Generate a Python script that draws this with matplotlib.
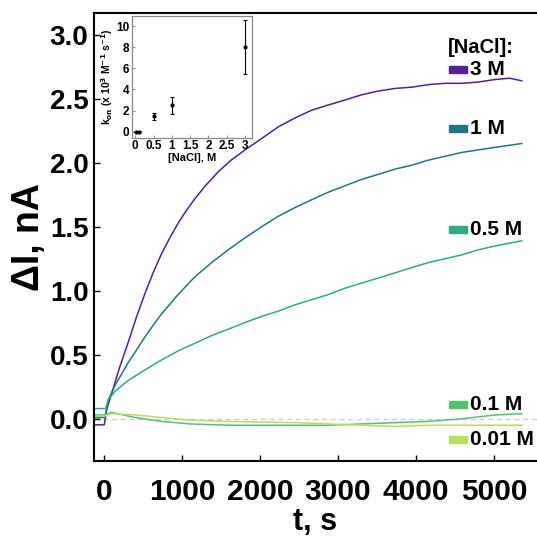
import numpy as np
import matplotlib.pyplot as plt
from matplotlib.patches import Rectangle

plt.rcParams['font.family'] = ['Liberation Sans', 'DejaVu Sans']
plt.rcParams['font.weight'] = 'bold'

# current traces, t in s, dI in nA
t_3M = [-115, 4, 34, 100, 200, 312, 420, 526, 630, 739, 850, 953, 1060, 1167, 1300, 1466, 1630, 1808,
        2000, 2235, 2450, 2662, 2870, 3090, 3300, 3517, 3730, 3944, 4160, 4372, 4580, 4799, 5013, 5200, 5355]
i_3M = [-0.047, -0.047, 0.07, 0.20, 0.40, 0.60, 0.80, 0.98, 1.14, 1.29, 1.42, 1.53, 1.63, 1.72, 1.82, 1.93, 2.02, 2.10,
        2.18, 2.28, 2.35, 2.41, 2.45, 2.49, 2.53, 2.56, 2.58, 2.59, 2.61, 2.62, 2.62, 2.63, 2.65, 2.66, 2.64]

t_1M = [-115, 13, 56, 150, 312, 420, 526, 630, 739, 950, 1167, 1380, 1594, 1800, 2021, 2230, 2449, 2660,
        2876, 3090, 3303, 3520, 3731, 3940, 4158, 4370, 4585, 4800, 5013, 5355]
i_1M = [0.01, 0.01, 0.15, 0.27, 0.44, 0.54, 0.64, 0.73, 0.82, 0.97, 1.11, 1.22, 1.32, 1.41, 1.50, 1.58, 1.65, 1.71,
        1.77, 1.82, 1.87, 1.91, 1.95, 1.98, 2.02, 2.05, 2.08, 2.10, 2.12, 2.15]

t_05M = [-115, 21, 56, 150, 312, 520, 739, 950, 1167, 1380, 1594, 1800, 2021, 2230, 2449, 2660, 2876, 3090,
         3303, 3520, 3731, 3940, 4158, 4370, 4585, 4800, 5013, 5355]
i_05M = [0.08, 0.08, 0.15, 0.22, 0.30, 0.38, 0.46, 0.53, 0.59, 0.65, 0.70, 0.75, 0.80, 0.84, 0.89, 0.93, 0.97, 1.02,
         1.06, 1.10, 1.14, 1.18, 1.22, 1.25, 1.28, 1.32, 1.35, 1.39]

t_01M = [-115, 0, 98, 400, 739, 1100, 1594, 2000, 2449, 2876, 3303, 3731, 4158, 4585, 5013, 5355]
i_01M = [0.03, 0.03, 0.05, 0.01, -0.02, -0.04, -0.05, -0.05, -0.05, -0.05, -0.04, -0.03, -0.02, 0.0, 0.03, 0.04]

t_001M = [-115, 0, 98, 400, 739, 1100, 1594, 2000, 2449, 2876, 3303, 3731, 4158, 4585, 5013, 5355]
i_001M = [0.02, 0.02, 0.04, 0.03, 0.01, -0.01, -0.02, -0.025, -0.03, -0.04, -0.05, -0.06, -0.05, -0.05, -0.05, -0.05]

labels = ['3 M', '1 M', '0.5 M', '0.1 M', '0.01 M']
colors = ['#561f99', '#22748c', '#2aac8a', '#52c46e', '#b6df5c']
label_y = [2.73, 2.27, 1.48, 0.113, -0.164]

# inset: association rate constant vs salt
nacl = [0.01, 0.1, 0.5, 1, 3]
kon = [0.0, 0.0, 1.45, 2.5, 8.0]
kon_err = [0.05, 0.05, 0.35, 0.8, 2.55]

fig = plt.figure(figsize=(5.37, 5.38), dpi=100)
ax = fig.add_axes([0.175, 0.143, 0.825, 0.833])

traces = [(t_3M, i_3M), (t_1M, i_1M), (t_05M, i_05M), (t_01M, i_01M), (t_001M, i_001M)]
ax.axhline(0, color='#cccccc', lw=0.9, ls=(0, (4, 3)), zorder=1)
for (t, i), c in zip(traces, colors):
    ax.plot(t, i, color=c, lw=1.1, zorder=2)

ax.set_xlim(-128, 5551)
ax.set_ylim(-0.33, 3.17)
ax.set_xticks([0, 1000, 2000, 3000, 4000, 5000])
ax.set_yticks([0.0, 0.5, 1.0, 1.5, 2.0, 2.5, 3.0])
ax.set_yticklabels(['0.0', '0.5', '1.0', '1.5', '2.0', '2.5', '3.0'])
ax.tick_params(axis='both', direction='in', length=4, width=1, labelsize=20)
ax.tick_params(axis='x', pad=12, labelsize=21.5)
ax.tick_params(axis='y', pad=4)
for lab in ax.get_xticklabels() + ax.get_yticklabels():
    lab.set_fontweight('bold')
ax.spines['right'].set_visible(False)
for s in ['left', 'top', 'bottom']:
    ax.spines[s].set_linewidth(1.5)
ax.set_xlabel('t, s', fontsize=22, fontweight='bold', labelpad=1)
ax.set_ylabel('ΔI, nA', fontsize=27, fontweight='bold', labelpad=2)

# colour key next to the trace ends
ax.text(4410, 2.90, '[NaCl]:', fontsize=14.5, fontweight='bold', va='center', ha='left')
for lab, c, y in zip(labels, colors, label_y):
    ax.add_patch(Rectangle((4423, y - 0.028), 225, 0.056, color=c, zorder=3))
    ax.text(4690, y, lab, fontsize=15, fontweight='bold', va='center', ha='left')

# inset
ins = fig.add_axes([0.245, 0.7435, 0.225, 0.227])
ins.errorbar(nacl, kon, yerr=kon_err, fmt='o', color='black', ms=2, elinewidth=0.8, capsize=1.2, capthick=0.8)
ins.set_xlim(-0.1, 3.2)
ins.set_ylim(-0.6, 10.97)
ins.set_xticks([0, 0.5, 1, 1.5, 2, 2.5, 3])
ins.set_xticklabels(['0', '0.5', '1', '1.5', '2', '2.5', '3'])
ins.set_yticks([0, 2, 4, 6, 8, 10])
ins.tick_params(direction='in', length=2, width=0.6, labelsize=8.5, pad=1.5, color='#777777')
for lab in ins.get_xticklabels() + ins.get_yticklabels():
    lab.set_fontweight('bold')
for s in ins.spines.values():
    s.set_color('#888888')
    s.set_linewidth(0.9)
ins.set_xlabel('[NaCl], M', fontsize=8, fontweight='bold', labelpad=0.5)
ins.set_ylabel('k$_{\\mathbf{on}}$ (x 10$^{\\mathbf{3}}$ M$^{\\mathbf{-1}}$ s$^{\\mathbf{-1}}$)', fontsize=7.5, fontweight='bold', labelpad=1)

fig.savefig('out.png', dpi=100)
